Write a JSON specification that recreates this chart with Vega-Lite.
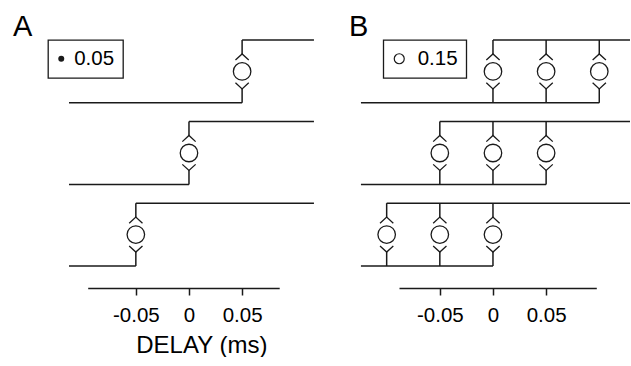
{
  "$schema": "https://vega.github.io/schema/vega-lite/v6.json",
  "padding": {"left": 13, "top": 13, "right": 0, "bottom": 0},
  "config": {
    "view": {"stroke": null},
    "font": "Liberation Sans",
    "title": {"fontSize": 29, "fontWeight": "normal", "color": "black", "anchor": "start", "frame": "group", "baseline": "alphabetic", "offset": -3}
  },
  "datasets": {
    "segments": [
      {"panel": "A", "row": 1, "part": "low", "from": -0.1129, "to": 0.05, "level": 2},
      {"panel": "A", "row": 1, "part": "high", "from": 0.05, "to": 0.1176, "level": 2.77},
      {"panel": "A", "row": 2, "part": "low", "from": -0.1129, "to": 0, "level": 1},
      {"panel": "A", "row": 2, "part": "high", "from": 0, "to": 0.1176, "level": 1.77},
      {"panel": "A", "row": 3, "part": "low", "from": -0.1129, "to": -0.05, "level": 0},
      {"panel": "A", "row": 3, "part": "high", "from": -0.05, "to": 0.1176, "level": 0.77},
      {"panel": "B", "row": 1, "part": "low", "from": -0.1242, "to": 0.1, "level": 2},
      {"panel": "B", "row": 1, "part": "high", "from": 0, "to": 0.1289, "level": 2.77},
      {"panel": "B", "row": 2, "part": "low", "from": -0.1242, "to": 0.05, "level": 1},
      {"panel": "B", "row": 2, "part": "high", "from": -0.05, "to": 0.1289, "level": 1.77},
      {"panel": "B", "row": 3, "part": "low", "from": -0.1242, "to": 0, "level": 0},
      {"panel": "B", "row": 3, "part": "high", "from": -0.1, "to": 0.1289, "level": 0.77}
    ],
    "events": [
      {"panel": "A", "row": 1, "delay": 0.05, "low": 2, "high": 2.77, "mid": 2.385},
      {"panel": "A", "row": 2, "delay": 0, "low": 1, "high": 1.77, "mid": 1.385},
      {"panel": "A", "row": 3, "delay": -0.05, "low": 0, "high": 0.77, "mid": 0.385},
      {"panel": "B", "row": 1, "delay": 0, "low": 2, "high": 2.77, "mid": 2.385},
      {"panel": "B", "row": 1, "delay": 0.05, "low": 2, "high": 2.77, "mid": 2.385},
      {"panel": "B", "row": 1, "delay": 0.1, "low": 2, "high": 2.77, "mid": 2.385},
      {"panel": "B", "row": 2, "delay": -0.05, "low": 1, "high": 1.77, "mid": 1.385},
      {"panel": "B", "row": 2, "delay": 0, "low": 1, "high": 1.77, "mid": 1.385},
      {"panel": "B", "row": 2, "delay": 0.05, "low": 1, "high": 1.77, "mid": 1.385},
      {"panel": "B", "row": 3, "delay": -0.1, "low": 0, "high": 0.77, "mid": 0.385},
      {"panel": "B", "row": 3, "delay": -0.05, "low": 0, "high": 0.77, "mid": 0.385},
      {"panel": "B", "row": 3, "delay": 0, "low": 0, "high": 0.77, "mid": 0.385}
    ]
  },
  "spacing": 34,
  "resolve": {"scale": {"x": "independent", "y": "independent", "stroke": "independent"}, "legend": {"stroke": "independent"}},
  "hconcat": [
    {
      "width": 245,
      "height": 248,
      "title": {"text": "A", "dx": -56},
      "layer": [
        {
          "data": {"name": "segments"},
          "transform": [{"filter": "datum.panel == 'A'"}],
          "mark": {"type": "rule", "strokeWidth": 1.5},
          "encoding": {
            "x": {
              "field": "from", "type": "quantitative",
              "scale": {"domain": [-0.0953, 0.0849], "range": [18.7, 210.2], "nice": false, "zero": false},
              "axis": {
                "values": [-0.05, 0, 0.05], "format": ".2~f", "labelExpr": "replace(datum.label, '\u2212', '-')",
                "domainColor": "#1a1a1a", "domainWidth": 1.5, "tickColor": "#1a1a1a", "tickWidth": 1.5, "tickSize": 7,
                "labelFontSize": 20.5, "labelColor": "black", "labelPadding": 10, "labelFlush": false, "labelOverlap": false, "grid": false,
                "title": "DELAY (ms)", "titleFontSize": 24, "titleFontWeight": "normal", "titleColor": "black",
                "titleX": 132.3, "titleY": 64, "titleAlign": "center", "titleBaseline": "alphabetic"
              }
            },
            "x2": {"field": "to"},
            "y": {"field": "level", "type": "quantitative", "scale": {"domain": [-0.27, 2.77], "nice": false, "zero": false}, "axis": null},
            "stroke": {
              "datum": "0.05", "type": "nominal", "scale": {"range": ["#1a1a1a"]},
              "legend": {
                "orient": "none", "legendX": -21, "legendY": 0, "title": null, "padding": 8.5, "strokeColor": "#1a1a1a",
                "labelFontSize": 20.5, "labelColor": "black", "labelOffset": 2.7,
                "symbolType": "circle", "symbolSize": 100, "symbolOffset": -5.5, "symbolFillColor": "#1a1a1a", "symbolStrokeWidth": 0,
                "encode": {
                  "legend": {"update": {"strokeWidth": {"value": 1.3}}},
                  "symbols": {"update": {"fill": {"value": "#1a1a1a"}, "shape": {"value": "circle"}, "size": {"value": 36}, "strokeWidth": {"value": 0}, "opacity": {"value": 1}}}
                }
              }
            }
          }
        },
        {
          "data": {"name": "events"},
          "transform": [{"filter": "datum.panel == 'A'"}],
          "mark": {"type": "rule", "strokeWidth": 1.5, "color": "#1a1a1a"},
          "encoding": {
            "x": {"field": "delay", "type": "quantitative"},
            "y": {"field": "low", "type": "quantitative"},
            "y2": {"field": "high"}
          }
        },
        {
          "data": {"name": "events"},
          "transform": [{"filter": "datum.panel == 'A'"}],
          "mark": {"type": "point", "shape": "M-0.25,-0.98H0.25V0.98H-0.25Z", "filled": true, "fill": "white", "strokeWidth": 0, "size": 1225, "opacity": 1},
          "encoding": {
            "x": {"field": "delay", "type": "quantitative"},
            "y": {"field": "mid", "type": "quantitative"}
          }
        },
        {
          "data": {"name": "events"},
          "transform": [{"filter": "datum.panel == 'A'"}],
          "mark": {"type": "point", "shape": "M-0.38,-0.65L0,-1L0.38,-0.65M-0.38,0.65L0,1L0.38,0.65M0.5,0A0.5,0.5 0 1 1 -0.5,0A0.5,0.5 0 1 1 0.5,0Z", "filled": false, "fill": null, "stroke": "#1a1a1a", "strokeWidth": 1.3, "size": 1225, "opacity": 1},
          "encoding": {
            "x": {"field": "delay", "type": "quantitative"},
            "y": {"field": "mid", "type": "quantitative"}
          }
        }
      ]
    },
    {
      "width": 269,
      "height": 248,
      "title": {"text": "B", "dx": -12},
      "layer": [
        {
          "data": {"name": "segments"},
          "transform": [{"filter": "datum.panel == 'B'"}],
          "mark": {"type": "rule", "strokeWidth": 1.5},
          "encoding": {
            "x": {
              "field": "from", "type": "quantitative",
              "scale": {"domain": [-0.0884, 0.0972], "range": [38, 235.3], "nice": false, "zero": false},
              "axis": {
                "values": [-0.05, 0, 0.05], "format": ".2~f", "labelExpr": "replace(datum.label, '\u2212', '-')",
                "domainColor": "#1a1a1a", "domainWidth": 1.5, "tickColor": "#1a1a1a", "tickWidth": 1.5, "tickSize": 7,
                "labelFontSize": 20.5, "labelColor": "black", "labelPadding": 10, "labelFlush": false, "labelOverlap": false, "grid": false,
                "title": null
              }
            },
            "x2": {"field": "to"},
            "y": {"field": "level", "type": "quantitative", "scale": {"domain": [-0.27, 2.77], "nice": false, "zero": false}, "axis": null},
            "stroke": {
              "datum": "0.15", "type": "nominal", "scale": {"range": ["#1a1a1a"]},
              "legend": {
                "orient": "none", "legendX": 22.3, "legendY": 0, "title": null, "padding": 8.5, "strokeColor": "#1a1a1a",
                "labelFontSize": 20.5, "labelColor": "black", "labelOffset": 8.2,
                "symbolType": "circle", "symbolSize": 100, "symbolOffset": -2.8, "symbolFillColor": "white", "symbolStrokeColor": "#1a1a1a", "symbolStrokeWidth": 1.2,
                "encode": {
                  "legend": {"update": {"strokeWidth": {"value": 1.3}}},
                  "symbols": {"update": {"fill": {"value": "white"}, "stroke": {"value": "#1a1a1a"}, "shape": {"value": "circle"}, "size": {"value": 100}, "strokeWidth": {"value": 1.2}, "opacity": {"value": 1}}}
                }
              }
            }
          }
        },
        {
          "data": {"name": "events"},
          "transform": [{"filter": "datum.panel == 'B'"}],
          "mark": {"type": "rule", "strokeWidth": 1.5, "color": "#1a1a1a"},
          "encoding": {
            "x": {"field": "delay", "type": "quantitative"},
            "y": {"field": "low", "type": "quantitative"},
            "y2": {"field": "high"}
          }
        },
        {
          "data": {"name": "events"},
          "transform": [{"filter": "datum.panel == 'B'"}],
          "mark": {"type": "point", "shape": "M-0.25,-0.98H0.25V0.98H-0.25Z", "filled": true, "fill": "white", "strokeWidth": 0, "size": 1225, "opacity": 1},
          "encoding": {
            "x": {"field": "delay", "type": "quantitative"},
            "y": {"field": "mid", "type": "quantitative"}
          }
        },
        {
          "data": {"name": "events"},
          "transform": [{"filter": "datum.panel == 'B'"}],
          "mark": {"type": "point", "shape": "M-0.38,-0.65L0,-1L0.38,-0.65M-0.38,0.65L0,1L0.38,0.65M0.5,0A0.5,0.5 0 1 1 -0.5,0A0.5,0.5 0 1 1 0.5,0Z", "filled": false, "fill": null, "stroke": "#1a1a1a", "strokeWidth": 1.3, "size": 1225, "opacity": 1},
          "encoding": {
            "x": {"field": "delay", "type": "quantitative"},
            "y": {"field": "mid", "type": "quantitative"}
          }
        }
      ]
    }
  ]
}
